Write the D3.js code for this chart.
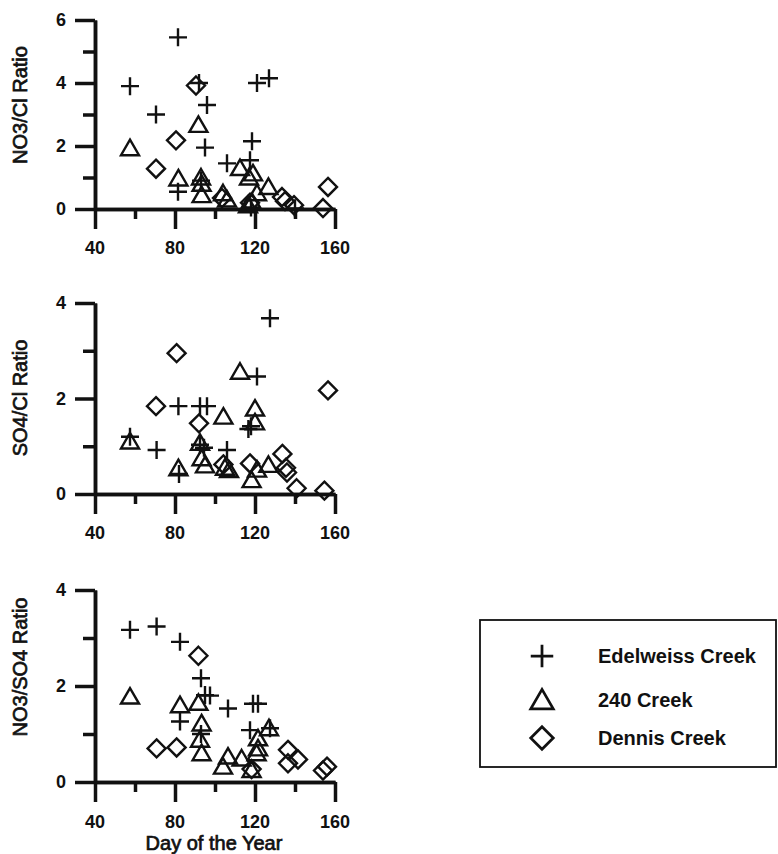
<!DOCTYPE html>
<html>
<head>
<meta charset="utf-8">
<script src="https://cdn.jsdelivr.net/npm/d3@7"></script>
<style>
  body { margin: 0; background: #fff; }
  svg { display: block; }
  text { font-family: "Liberation Sans", Arial, Helvetica, sans-serif; fill: #111; }
</style>
</head>
<body>
<svg id="chart"></svg>
<script>
// day of the year, ratio
var edelweissNO3Cl = [[57.5,3.9],[81.5,5.45],[70.5,3.0],[92,4.0],[121,4.0],[127,4.15],[96,3.3],[95,1.95],
                      [118.5,2.15],[117.5,1.55],[106,1.45],[81.5,0.55],[93,0.9],[118,0.05],[140,0.02]];
var creek240NO3Cl = [[57.5,1.93],[91.7,2.67],[81.7,0.97],[93,1.0],[93.3,0.8],[93.3,0.44],[112.5,1.3],[119,1.13],
                     [117,1.0],[126.7,0.7],[104,0.5],[106,0.3],[121,0.5],[116.5,0.12],[118.5,0.22]];
var dennisNO3Cl = [[90.5,3.92],[80.5,2.18],[70.5,1.28],[156.5,0.7],[154,0.03],[133.5,0.38],[135,0.25],
                   [139.5,0.12],[103.5,0.35],[117.5,0.2]];

var edelweissSO4Cl = [[127.5,3.68],[121,2.46],[81.7,1.84],[92.5,1.84],[96,1.84],[57.5,1.2],[70.8,0.92],[82,0.42],
                      [92.5,1.03],[94.5,0.97],[106,0.92],[116.7,1.36],[118,1.42]];
var creek240SO4Cl = [[57.5,1.1],[112.5,2.56],[120,1.79],[120,1.5],[104.2,1.62],[81.7,0.54],[92.5,1.07],[93.3,0.75],
                     [95,0.6],[105,0.55],[107,0.5],[118.3,0.29],[121,0.51],[126.7,0.61]];
var dennisSO4Cl = [[80.8,2.95],[70.5,1.84],[92,1.48],[156.5,2.17],[133.7,0.84],[135.5,0.55],[136,0.45],
                   [117.5,0.64],[104.2,0.62],[140.8,0.12],[154.7,0.07]];

var edelweissNO3SO4 = [[57.5,3.17],[70.8,3.24],[82.5,2.92],[93,2.16],[95,1.81],[97.5,1.8],[106.5,1.53],[119,1.63],
                       [121.5,1.63],[82.5,1.26],[117.5,1.08],[93,1.0],[127.5,1.12]];
var creek240NO3SO4 = [[57.5,1.78],[82.5,1.6],[91.7,1.65],[93.3,1.22],[92.5,0.88],[93.3,0.6],[106.5,0.53],[104,0.32],
                      [113.3,0.49],[118.3,0.25],[120.8,0.6],[121.5,0.91],[121.5,0.7],[127,1.12]];
var dennisNO3SO4 = [[91.7,2.63],[70.8,0.7],[80.8,0.72],[136.5,0.67],[141.5,0.47],[136.5,0.39],[154,0.24],
                    [156,0.32],[118.3,0.27]];

var xTicks = [40, 80, 120, 160];
var xMinorTicks = [60, 100, 140];
var seriesNames = ["Edelweiss Creek", "240 Creek", "Dennis Creek"];

var width = 778;
var height = 854;

var svg = d3.select("#chart")
            .attr("width", width)
            .attr("height", height);

var x = d3.scaleLinear().domain([40, 160]).range([95, 335]);

var symbols = {
  plus: "M-9,0H9M0,-9V9",
  triangle: "M0,-8.5L9,7L-9,7Z",
  diamond: "M0,-9L9,0L0,9L-9,0Z"
};

var panels = [
  { title: "NO3/Cl Ratio", max: 6, yTicks: [0,2,4,6], yMinor: [1,3,5], top: 20, bottom: 209, titleY: 105, labelY: 254,
    series: [edelweissNO3Cl, creek240NO3Cl, dennisNO3Cl] },
  { title: "SO4/Cl Ratio", max: 4, yTicks: [0,2,4], yMinor: [1,3], top: 303, bottom: 494, titleY: 398, labelY: 539,
    series: [edelweissSO4Cl, creek240SO4Cl, dennisSO4Cl] },
  { title: "NO3/SO4 Ratio", max: 4, yTicks: [0,2,4], yMinor: [1,3], top: 590, bottom: 782, titleY: 667, labelY: 828,
    series: [edelweissNO3SO4, creek240NO3SO4, dennisNO3SO4] }
];

var shapeOrder = ["plus", "triangle", "diamond"];

var styleAxis = function(g)
{
  g.selectAll("path, line")
   .attr("stroke", "#111")
   .attr("stroke-width", 3.5);
  g.selectAll("text").remove();
};

panels.forEach(function(p)
{
  var y = d3.scaleLinear().domain([0, p.max]).range([p.bottom, p.top]);
  var g = svg.append("g");

  // minor ticks first, then major ticks with the axis line
  g.append("g")
   .attr("transform", "translate(0," + p.bottom + ")")
   .call(d3.axisBottom(x).tickValues(xMinorTicks).tickSize(10).tickSizeOuter(0))
   .call(styleAxis);
  g.append("g")
   .attr("transform", "translate(0," + p.bottom + ")")
   .call(d3.axisBottom(x).tickValues(xTicks).tickSize(20).tickSizeOuter(0))
   .call(styleAxis);
  g.append("g")
   .attr("transform", "translate(" + x(40) + ",0)")
   .call(d3.axisLeft(y).tickValues(p.yMinor).tickSize(12).tickSizeOuter(0))
   .call(styleAxis);
  g.append("g")
   .attr("transform", "translate(" + x(40) + ",0)")
   .call(d3.axisLeft(y).tickValues(p.yTicks).tickSize(20).tickSizeOuter(0))
   .call(styleAxis);

  g.selectAll(".xlab")
   .data(xTicks)
   .enter()
   .append("text")
   .attr("x", function(d) { return x(d); })
   .attr("y", p.labelY)
   .attr("text-anchor", "middle")
   .attr("font-size", 18)
   .attr("font-weight", "bold")
   .text(function(d) { return d; });

  g.selectAll(".ylab")
   .data(p.yTicks)
   .enter()
   .append("text")
   .attr("x", 66)
   .attr("y", function(d) { return y(d) + 6; })
   .attr("text-anchor", "end")
   .attr("font-size", 18)
   .attr("font-weight", "bold")
   .text(function(d) { return d; });

  g.append("text")
   .attr("transform", "translate(27," + p.titleY + ") rotate(-90)")
   .attr("text-anchor", "middle")
   .attr("font-size", 20)
   .attr("stroke", "#111")
   .attr("stroke-width", 0.7)
   .text(p.title);

  p.series.forEach(function(data, i)
  {
    g.selectAll(".pt" + i)
     .data(data)
     .enter()
     .append("path")
     .attr("d", symbols[shapeOrder[i]])
     .attr("transform", function(d) { return "translate(" + x(d[0]) + "," + y(d[1]) + ")"; })
     .attr("fill", "none")
     .attr("stroke", "#111")
     .attr("stroke-width", 2.4);
  });
});

svg.append("text")
   .attr("x", 214)
   .attr("y", 850)
   .attr("text-anchor", "middle")
   .attr("font-size", 20)
   .attr("stroke", "#111")
   .attr("stroke-width", 0.7)
   .text("Day of the Year");

/*Add legend*/
var legend = svg.append("g");

legend.append("rect")
      .attr("x", 480)
      .attr("y", 620)
      .attr("width", 296)
      .attr("height", 147)
      .attr("fill", "none")
      .attr("stroke", "#111")
      .attr("stroke-width", 1.8);

legend.selectAll("path")
      .data(seriesNames)
      .enter()
      .append("path")
      .attr("d", function(d, i) { return symbols[shapeOrder[i]]; })
      .attr("transform", function(d, i)
      {
        return "translate(542," + [656, 700, 738][i] + ") scale(1.25)";
      })
      .attr("fill", "none")
      .attr("stroke", "#111")
      .attr("stroke-width", 2.2);

legend.selectAll("text")
      .data(seriesNames)
      .enter()
      .append("text")
      .attr("x", 598)
      .attr("y", function(d, i) { return [663, 707, 745][i]; })
      .attr("font-size", 20)
      .attr("font-weight", "bold")
      .text(function(d) { return d; });
</script>
</body>
</html>
